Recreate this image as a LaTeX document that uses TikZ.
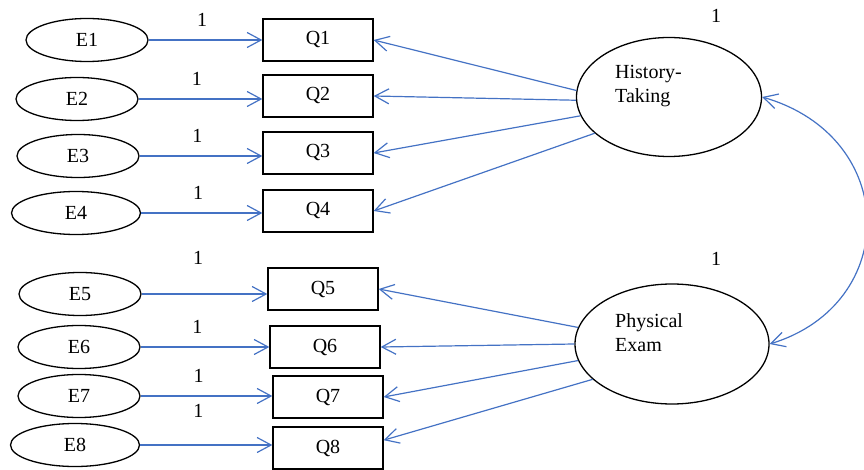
\documentclass[tikz,border=0pt]{standalone}
\usepackage{fontspec}
\setmainfont{Liberation Serif}
\usetikzlibrary{shapes.geometric,arrows.meta}
\definecolor{linkblue}{RGB}{68,114,196}

\begin{document}
\begin{tikzpicture}[x=1pt,y=-1pt,font=\fontsize{20}{24}\selectfont,
  errnode/.style={draw,ellipse,line width=1.3,minimum width=122,minimum height=43,inner sep=0},
  itemnode/.style={draw,rectangle,line width=1.3,minimum width=110,minimum height=42,inner sep=0},
  latnode/.style={draw,ellipse,line width=1.3,inner sep=0},
  linkarrow/.style={color=linkblue,line width=1.2,-{Straight Barb[length=14,width=15]}},
  covarrow/.style={color=linkblue,line width=1.2,{Straight Barb[length=14,width=15]}-{Straight Barb[length=14,width=15]}},
  onelabel/.style={above=13,inner sep=0,text=black}]
\useasboundingbox (0,0) rectangle (864,470);

%Shape: Ellipse (error terms)
\node[errnode] (E1) at (87,40) {E1};
\node[errnode] (E2) at (77,99) {E2};
\node[errnode] (E3) at (78,156) {E3};
\node[errnode,minimum width=129] (E4) at (76,213) {E4};
\node[errnode] (E5) at (80,294) {E5};
\node[errnode] (E6) at (79,347) {E6};
\node[errnode] (E7) at (79,396) {E7};
\node[errnode,minimum width=129] (E8) at (75,445) {E8};

%Shape: Rectangle (items)
\node[itemnode] (Q1) at (318,40) {Q1};
\node[itemnode] (Q2) at (318,96) {Q2};
\node[itemnode] (Q3) at (318,153) {Q3};
\node[itemnode] (Q4) at (318,211) {Q4};
\node[itemnode] (Q5) at (323,289) {Q5};
\node[itemnode] (Q6) at (325,347) {Q6};
\node[itemnode] (Q7) at (328,397) {Q7};
\node[itemnode] (Q8) at (328,448) {Q8};

%Shape: Ellipse (factors)
\node[latnode,minimum width=185,minimum height=119] (HT) at (669,97) {};
\node[latnode,minimum width=194,minimum height=120] (PE) at (672,344) {};

% Text Node
\node[anchor=west,align=left,inner sep=0] (HTtext) at (615,86) {History-\\Taking};
% Text Node
\node[anchor=west,align=left,inner sep=0] (PEtext) at (615,333) {Physical\\Exam};
% Text Node
\node[inner sep=0] (HTvar) at (716,16) {1};
% Text Node
\node[inner sep=0] (PEvar) at (716,259) {1};

% Connection
\draw[linkarrow] (E1.east) -- node[onelabel,pos=0.47] (L1) {1} (E1.east -| Q1.west);
\draw[linkarrow] (E2.east) -- node[onelabel,pos=0.47] (L2) {1} (E2.east -| Q2.west);
\draw[linkarrow] (E3.east) -- node[onelabel,pos=0.47] (L3) {1} (E3.east -| Q3.west);
\draw[linkarrow] (E4.east) -- node[onelabel,pos=0.47] (L4) {1} (E4.east -| Q4.west);
\draw[linkarrow] (E5.east) -- node[onelabel,pos=0.45,above=16] (L5) {1} (E5.east -| Q5.west);
\draw[linkarrow] (E6.east) -- node[onelabel,pos=0.44] (L6) {1} (E6.east -| Q6.west);
\draw[linkarrow] (E7.east) -- node[onelabel,pos=0.44] (L7) {1} (E7.east -| Q7.west);
\draw[linkarrow] (E8.east) -- node[onelabel,pos=0.44,above=14] (L8) {1} (E8.east -| Q8.west);

% Connection
\draw[linkarrow] (HT.176) -- (Q1.east);
\draw[linkarrow] (HT.182) -- (Q2.east);
\draw[linkarrow] (HT.192) -- (Q3.east);
\draw[linkarrow] (HT.206) -- (Q4.east);
\draw[linkarrow] (PE.170) -- (Q5.east);
\draw[linkarrow] (PE.180) -- (Q6.east);
\draw[linkarrow] (PE.190) -- (Q7.east);
\draw[linkarrow] (PE.204) -- (Q8.8);

% Connection
\draw[covarrow] (HT.east) .. controls +(138,40) and +(131,-40) .. (PE.east);

\end{tikzpicture}
\end{document}
